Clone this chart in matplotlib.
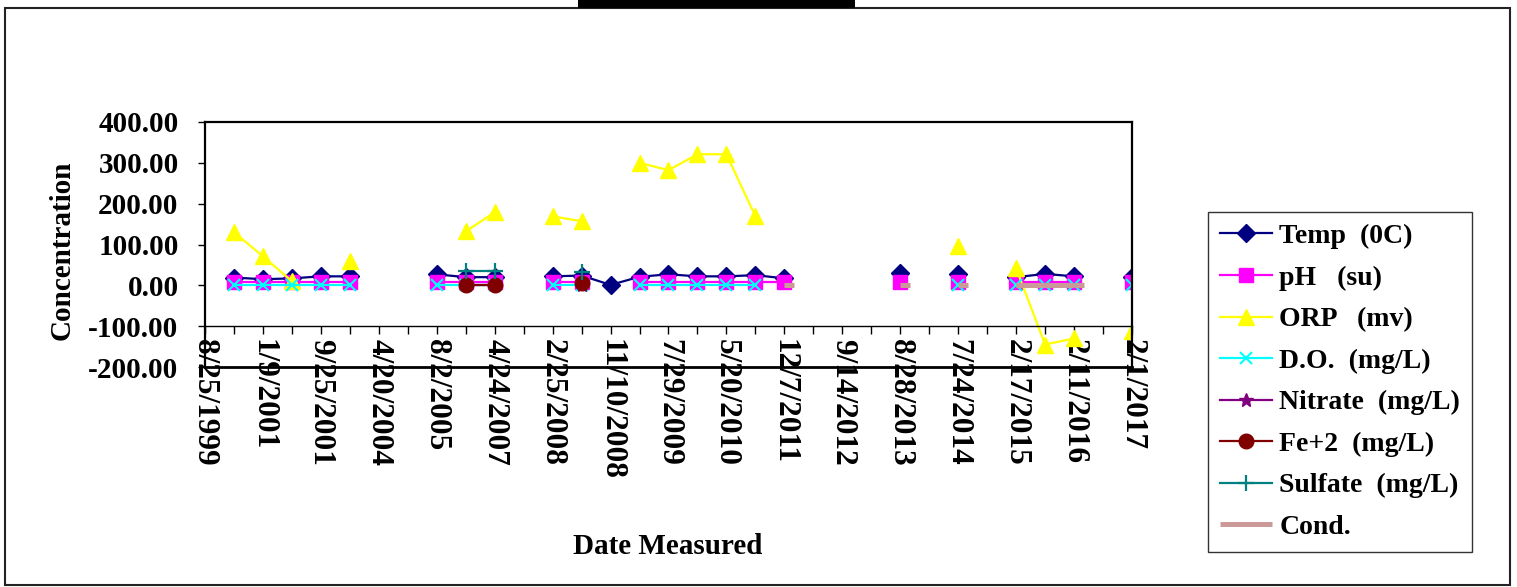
import matplotlib
matplotlib.use('Agg')
import matplotlib.pyplot as plt
import numpy as np
from matplotlib.path import Path
from matplotlib.patches import Rectangle

plt.rcParams['font.family'] = ['Liberation Serif', 'DejaVu Serif']
plt.rcParams['font.weight'] = 'bold'

n = np.nan
# 33 categories, only every other one is labelled on the axis
tick_labels = ['8/25/1999', '', '1/9/2001', '', '9/25/2001', '', '4/20/2004', '',
               '8/2/2005', '', '4/24/2007', '', '2/25/2008', '', '11/10/2008', '',
               '7/29/2009', '', '5/20/2010', '', '12/7/2011', '', '9/14/2012', '',
               '8/28/2013', '', '7/24/2014', '', '2/17/2015', '', '2/11/2016', '',
               '2/1/2017']

temp = [n, 19, 15, 17, 22, 22, n, n, 27, 20, 20, n, 22, 24, 1, 21, 27, 22, 22, 25, 17,
        n, n, n, 29, n, 27, n, 20, 28, 22, n, 20]
ph = [n, 7, 7, 7, 7, 7, n, n, 7, 7, 7, n, 7, 7, n, 7, 7, 7, 7, 7, 7,
      n, n, n, 7, n, 7, n, 7, 7, 7, n, 7]
orp = [n, 130, 71, 10, n, 59, n, n, n, 132, 179, n, 169, 157, n, 300, 282, 321, 321, 169, n,
       n, n, n, n, n, 96, n, 42, -145, -130, n, -113]
do = [n, 2, 2, 2, 2, 2, n, n, 2, 2, 2, n, 2, 2, n, 2, 2, 2, 2, 2, n,
      n, n, n, n, n, 2, n, 2, 2, 2, n, 2]
nitrate = [n, n, n, n, n, n, n, n, n, 1, 1, n, n, 1, n, n, n, n, n, n, n,
           n, n, n, n, n, n, n, n, n, n, n, n]
fe2 = [n, n, n, n, n, n, n, n, n, 0, 0, n, n, 6, n, n, n, n, n, n, n,
       n, n, n, n, n, n, n, n, n, n, n, n]
sulfate = [n, n, n, n, n, n, n, n, n, 35, 35, n, n, 33, n, n, n, n, n, n, n,
           n, n, n, n, n, n, n, n, n, n, n, n]
cond = [n, n, n, n, n, n, n, n, n, n, n, n, n, n, n, n, n, n, n, n, 1,
        n, n, n, 1, n, 1, n, 1, 1, 1, n, 1]

x = np.arange(len(tick_labels))

fig = plt.figure(figsize=(15.17, 5.87), dpi=100)
ax = fig.add_axes([205/1517, 1-367/587, (1132-205)/1517, (367-122)/587])

stub = Path([[0, 0], [1, 0]])

ax.plot(x, temp, color='#000080', lw=1.6, marker='D', ms=9.5, label='Temp  (0C)')
ax.plot(x, ph, color='#FF00FF', lw=1.6, marker='s', ms=9.5, label='pH   (su)')
ax.plot(x, orp, color='#FFFF00', lw=1.6, marker='^', ms=11, label='ORP   (mv)')
ax.plot(x, do, color='#00FFFF', lw=1.6, marker='x', ms=9, mew=1.5, label='D.O.  (mg/L)')
ax.plot(x, nitrate, color='#800080', lw=1.6, marker='*', ms=10, label='Nitrate  (mg/L)')
ax.plot(x, fe2, color='#800000', lw=1.6, marker='o', ms=10.5, label='Fe+2  (mg/L)')
ax.plot(x, sulfate, color='#008080', lw=1.6, marker='+', ms=12, mew=1.6, label='Sulfate  (mg/L)')
ax.plot(x, cond, color='#CC9999', lw=3.6, marker=stub, ms=15, mew=3.6,
        solid_capstyle='butt', label='Cond.')

# spines first: moving the bottom spine resets the tick objects
for s in ax.spines.values():
    s.set_color('black')
    s.set_linewidth(1.6)
ax.spines['bottom'].set_position(('data', -100))
ax.spines['bottom'].set_linewidth(1.0)
ax.axhline(-200, color='black', lw=2.0, clip_on=False)

ax.set_xlim(0, 32)
ax.set_ylim(-200, 400)
ax.set_yticks(np.arange(-200, 401, 100))
ax.set_yticklabels(['%.2f' % v for v in np.arange(-200, 401, 100)])
ax.set_xticks(x)
ax.set_xticklabels(tick_labels)

ax.tick_params(axis='y', direction='out', length=5, width=1, pad=14, labelsize=21)
ax.tick_params(axis='x', direction='out', length=6, width=1, pad=3, labelsize=22.5,
               labelrotation=-90)
for t in ax.get_xticklabels():
    t.set_verticalalignment('top')
    t.set_horizontalalignment('center')

fig.text(62/1517, 1-250/587, 'Concentration', rotation=90, ha='center', va='center',
         fontsize=21)
fig.text(668/1517, 1-547/587, 'Date Measured', ha='center', va='center', fontsize=21)

leg = fig.legend(loc='upper left', bbox_to_anchor=(1208/1517, 1-212/587),
                 fontsize=20, frameon=True, fancybox=False, labelspacing=0.58,
                 handlelength=1.9, handletextpad=0.25, borderpad=0.42,
                 borderaxespad=0)
leg.get_frame().set_edgecolor('black')
leg.get_frame().set_linewidth(1.0)

# outer chart border and the clipped title box at the top
fig.patches.append(Rectangle((5/1517, 1-585/587), 1505/1517, 577/587, transform=fig.transFigure,
                             fill=False, edgecolor='#222222', lw=1.5))
fig.patches.append(Rectangle((578/1517, 1-8/587), 277/1517, 8/587, transform=fig.transFigure,
                             facecolor='black', edgecolor='black', lw=0))

fig.savefig('out.png', dpi=100)
